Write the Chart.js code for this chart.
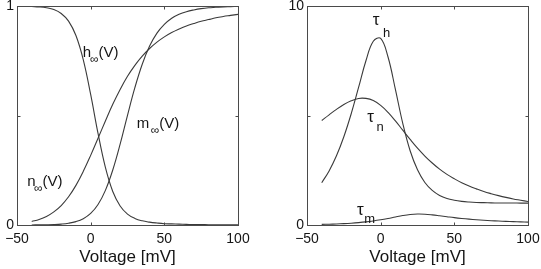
<!DOCTYPE html>
<html>
<head>
<meta charset="utf-8">
<script src="https://cdn.jsdelivr.net/npm/chart.js@4"></script>
<style>
  html, body { margin: 0; padding: 0; background: #fff; }
  #wrap { position: relative; width: 541px; height: 269px; }
  canvas { position: absolute; top: 0; }
</style>
</head>
<body>
<div id="wrap">
  <canvas id="gates" width="270" height="269" style="left:0px"></canvas>
  <canvas id="taus" width="271" height="269" style="left:270px"></canvas>
</div>
<script>
// voltage samples (mV)
const voltage = [-40, -35, -30, -25, -20, -15, -10, -5, 0, 5, 10, 15, 20, 25, 30, 35, 40, 45, 50, 55, 60, 65, 70, 75, 80, 85, 90, 95, 100];

// steady states (left panel)
const mInf = [0.0003, 0.0005, 0.0011, 0.0021, 0.0041, 0.0080, 0.0154, 0.0289, 0.0529, 0.0936, 0.158, 0.251, 0.369, 0.501, 0.627, 0.734, 0.817, 0.876, 0.916, 0.944, 0.962, 0.974, 0.982, 0.988, 0.992, 0.994, 0.996, 0.997, 0.998];
const hInf = [0.998, 0.996, 0.992, 0.984, 0.966, 0.931, 0.865, 0.754, 0.596, 0.418, 0.263, 0.153, 0.087, 0.050, 0.030, 0.019, 0.013, 0.009, 0.006, 0.005, 0.004, 0.003, 0.002, 0.002, 0.001, 0.001, 0.001, 0.0005, 0.0005];
const nInf = [0.016, 0.025, 0.039, 0.060, 0.089, 0.129, 0.181, 0.245, 0.318, 0.396, 0.475, 0.551, 0.619, 0.679, 0.729, 0.771, 0.806, 0.835, 0.859, 0.879, 0.895, 0.909, 0.920, 0.930, 0.938, 0.946, 0.952, 0.957, 0.962];

// time constants (right panel)
const tauM = [0.027, 0.036, 0.047, 0.062, 0.082, 0.108, 0.141, 0.184, 0.237, 0.299, 0.367, 0.431, 0.479, 0.501, 0.494, 0.464, 0.423, 0.379, 0.336, 0.299, 0.267, 0.239, 0.216, 0.196, 0.180, 0.165, 0.153, 0.142, 0.133];
const tauH = [1.93, 2.47, 3.16, 4.03, 5.08, 6.28, 7.50, 8.39, 8.52, 7.67, 6.19, 4.64, 3.39, 2.52, 1.94, 1.58, 1.35, 1.21, 1.13, 1.08, 1.05, 1.03, 1.02, 1.01, 1.005, 1.003, 1.002, 1.001, 1.000];
const tauN = [4.77, 5.03, 5.28, 5.50, 5.67, 5.78, 5.78, 5.68, 5.46, 5.14, 4.75, 4.33, 3.91, 3.51, 3.15, 2.83, 2.55, 2.31, 2.11, 1.93, 1.78, 1.65, 1.53, 1.43, 1.34, 1.26, 1.19, 1.13, 1.07];

// ticks
const xTicks = [-50, 0, 50, 100];
const gateTicks = [0, 0.5, 1];
const gateTickLabels = ['0', '', '1'];
const tauTicks = [0, 5, 10];
const tauTickLabels = ['0', '', '10'];
const xTitle = 'Voltage [mV]';

// curve labels: [x, y, main, sub, rest]
const gateLabels = [
  [-5.4, 0.767, 'h', '\u221E', '(V)'],
  [31.2, 0.443, 'm', '\u221E', '(V)'],
  [-43.1, 0.179, 'n', '\u221E', '(V)']
];
const tauLabels = [
  [-5.4, 9.155, '\u03C4', 'h', ''],
  [-9.1, 4.717, '\u03C4', 'n', ''],
  [-16.0, 0.457, '\u03C4', 'm', '']
];

const FONT = "'Liberation Sans', Arial, Helvetica, sans-serif";
const lineColor = '#3a3a3a';
const axisColor = '#4a4a4a';
const textColor = '#151515';

function pts(ys) {
  return voltage.map((v, i) => ({x: v, y: ys[i]}));
}

function ds(ys) {
  return {
    data: pts(ys),
    borderColor: lineColor,
    borderWidth: 1.1,
    pointRadius: 0,
    tension: 0.4,
    fill: false
  };
}

// box round the plot and the small inward ticks, matlab style
const boxPlugin = {
  id: 'box',
  afterDatasetsDraw(chart) {
    const {ctx, chartArea: a} = chart;
    const xs = chart.scales.x, ys = chart.scales.y;
    const l = Math.round(a.left) + 0.5, r = Math.round(a.right) + 0.5;
    const t = Math.round(a.top) + 0.5, b = Math.round(a.bottom) + 0.5;
    ctx.save();
    ctx.strokeStyle = axisColor;
    ctx.lineWidth = 1;
    ctx.strokeRect(l, t, r - l, b - t);
    ctx.beginPath();
    xs.ticks.forEach((tk) => {
      const px = Math.round(xs.getPixelForValue(tk.value)) + 0.5;
      ctx.moveTo(px, b); ctx.lineTo(px, b - 3);
      ctx.moveTo(px, t); ctx.lineTo(px, t + 3);
    });
    ys.ticks.forEach((tk) => {
      const py = Math.round(ys.getPixelForValue(tk.value)) + 0.5;
      ctx.moveTo(l, py); ctx.lineTo(l + 3, py);
      ctx.moveTo(r, py); ctx.lineTo(r - 3, py);
    });
    ctx.stroke();
    ctx.restore();
  }
};

const labelPlugin = {
  id: 'curveLabels',
  afterDatasetsDraw(chart, args, opts) {
    const {ctx} = chart;
    const xs = chart.scales.x, ys = chart.scales.y;
    ctx.save();
    ctx.fillStyle = textColor;
    ctx.textBaseline = 'alphabetic';
    ctx.textAlign = 'left';
    opts.items.forEach((it, i) => {
      const st = opts.style[i];
      let px = xs.getPixelForValue(it[0]);
      const py = ys.getPixelForValue(it[1]);
      ctx.font = st.main + 'px ' + FONT;
      ctx.fillText(it[2], px, py);
      px += ctx.measureText(it[2]).width + st.gap;
      ctx.font = st.sub + 'px ' + FONT;
      ctx.fillText(it[3], px, py + st.drop);
      px += ctx.measureText(it[3]).width + st.gap2;
      if (it[4]) {
        ctx.font = st.main + 'px ' + FONT;
        ctx.fillText(it[4], px, py);
      }
    });
    ctx.restore();
  }
};

function makeScales(yMin, yMax, yTicks, yLabels, yWidth) {
  return {
    x: {
      type: 'linear',
      min: -50,
      max: 100,
      afterBuildTicks: (s) => { s.ticks = xTicks.map((v) => ({value: v})); },
      afterFit: (s) => { s.height = 44; s.paddingLeft = 0; s.paddingRight = 0; },
      grid: {display: false, drawTicks: false},
      border: {display: false},
      ticks: {
        padding: 6,
        color: textColor,
        font: {family: FONT, size: 14},
        maxRotation: 0,
        callback: (v) => String(v).replace('-', '\u2212')
      },
      title: {
        display: true,
        text: xTitle,
        color: textColor,
        font: {family: FONT, size: 17},
        padding: {top: 0, bottom: 1}
      }
    },
    y: {
      type: 'linear',
      min: yMin,
      max: yMax,
      afterBuildTicks: (s) => { s.ticks = yTicks.map((v) => ({value: v})); },
      afterFit: (s) => { s.width = yWidth; s.paddingTop = 0; s.paddingBottom = 0; },
      grid: {display: false, drawTicks: false},
      border: {display: false},
      ticks: {
        padding: 3,
        color: textColor,
        font: {family: FONT, size: 14},
        callback: (v) => yLabels[yTicks.indexOf(v)]
      }
    }
  };
}

new Chart(document.getElementById('gates'), {
  type: 'line',
  data: {datasets: [ds(hInf), ds(mInf), ds(nInf)]},
  options: {
    responsive: false,
    animation: false,
    devicePixelRatio: 1,
    layout: {padding: {left: 0, right: 32, top: 6, bottom: 0}},
    scales: makeScales(0, 1, gateTicks, gateTickLabels, 17),
    plugins: {
      legend: {display: false},
      tooltip: {enabled: false},
      curveLabels: {
        items: gateLabels,
        style: [
          {main: 15, sub: 12, gap: -1, gap2: 0, drop: 6},
          {main: 15, sub: 12, gap: 1.5, gap2: 0, drop: 6},
          {main: 15, sub: 12, gap: -1.5, gap2: 0, drop: 6}
        ]
      }
    }
  },
  plugins: [boxPlugin, labelPlugin]
});

new Chart(document.getElementById('taus'), {
  type: 'line',
  data: {datasets: [ds(tauH), ds(tauN), ds(tauM)]},
  options: {
    responsive: false,
    animation: false,
    devicePixelRatio: 1,
    layout: {padding: {left: 0, right: 13, top: 6, bottom: 0}},
    scales: makeScales(0, 10, tauTicks, tauTickLabels, 37),
    plugins: {
      legend: {display: false},
      tooltip: {enabled: false},
      curveLabels: {
        items: tauLabels,
        style: [
          {main: 17, sub: 13, gap: 3.5, gap2: 0, drop: 12},
          {main: 17, sub: 13, gap: 2.5, gap2: 0, drop: 9},
          {main: 17, sub: 13, gap: 0.5, gap2: 0, drop: 8}
        ]
      }
    }
  },
  plugins: [boxPlugin, labelPlugin]
});
</script>
</body>
</html>
